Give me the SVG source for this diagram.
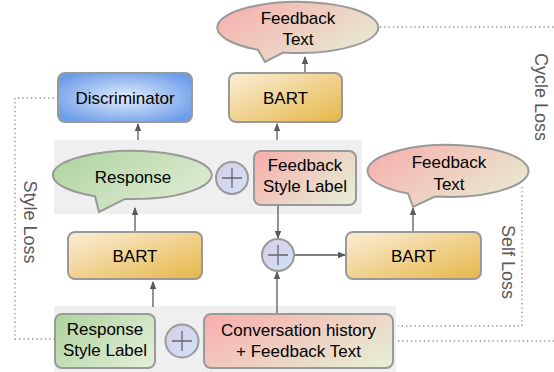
<svg xmlns="http://www.w3.org/2000/svg" width="554" height="372" viewBox="0 0 554 372">
<style>
.node{stroke:#999999;stroke-width:2}
.lbl{font-family:"Liberation Sans",Arial,sans-serif;font-size:17px;fill:#000;text-anchor:middle}
.loss{font-family:"Liberation Sans",Arial,sans-serif;font-size:18px;fill:#595959;text-anchor:middle}
.arr{stroke:#595959;stroke-width:1.3;fill:none;marker-end:url(#ah)}
.dot{stroke:#8a8a8a;stroke-width:1.3;fill:none;stroke-dasharray:1.3 3}
.plus{stroke:#666;stroke-width:1.3}
.panel{fill:#efefef}
</style>
<defs>
<marker id="ah" markerWidth="8" markerHeight="8" refX="7" refY="4" orient="auto" markerUnits="userSpaceOnUse">
<path d="M0,0.8 L8,4 L0,7.2 Z" fill="#595959"/>
</marker>
<linearGradient id="gOr" x1="0" y1="0" x2="1" y2="1"><stop offset="0" stop-color="#fbeed8"/><stop offset="1" stop-color="#e6b748"/></linearGradient>
<linearGradient id="gRG" x1="0" y1="0.2" x2="1" y2="0.8"><stop offset="0" stop-color="#f6b1ae"/><stop offset="1" stop-color="#e6edd3"/></linearGradient>
<linearGradient id="gGr" x1="0" y1="0.2" x2="1" y2="0.8"><stop offset="0" stop-color="#b1d5a2"/><stop offset="1" stop-color="#e1edd6"/></linearGradient>
<radialGradient id="gBl" cx="0.5" cy="0.5" r="0.6"><stop offset="0" stop-color="#e3ecfb"/><stop offset="1" stop-color="#6c9de9"/></radialGradient>
<linearGradient id="gPl" x1="0" y1="0" x2="1" y2="1"><stop offset="0" stop-color="#d8cce9"/><stop offset="1" stop-color="#cfe3f5"/></linearGradient>
</defs>

<g id="panels">
<rect class="panel" x="54" y="140" width="308" height="74"/>
<rect class="panel" x="54" y="306" width="342" height="66"/>
</g>

<g id="connectors">
<path class="arr" d="M138,140 V124"/>
<path class="arr" d="M277,140 V124"/>
<path class="arr" d="M305,73 V57"/>
<path class="arr" d="M135,232 V208"/>
<path class="arr" d="M153,307 V282"/>
<path class="arr" d="M278,205 V238"/>
<path class="arr" d="M277,314 V272"/>
<path class="arr" d="M294,255 H345"/>
<path class="arr" d="M413,232 V208"/>
<path class="dot" d="M380,27 H554"/>
<path class="dot" d="M398,341 H554"/>
<path class="dot" d="M522,187 V326 H398"/>
<path class="dot" d="M58,98 H15 V339 H55"/>
</g>

<g id="feedback-text-top">
<path class="node" fill="url(#gRG)" d="M258,49.7 L265,62 L283,52.6 A80.5,25.5 0 1,0 258,49.7 Z" transform="translate(0,0)"/>
<text class="lbl" x="298" y="24">Feedback</text>
<text class="lbl" x="298" y="45">Text</text>
</g>

<g id="discriminator">
<rect class="node" x="58" y="73" width="134" height="49" rx="7" fill="url(#gBl)"/>
<text class="lbl" x="125" y="104">Discriminator</text>
</g>

<g id="bart-top">
<rect class="node" x="229" y="73" width="113" height="49" rx="7" fill="url(#gOr)"/>
<text class="lbl" x="285.5" y="104">BART</text>
</g>

<g id="response">
<path class="node" fill="url(#gGr)" d="M95,196.2 L99,212 L125,198.9 A79.5,24 0 1,0 95,196.2 Z"/>
<text class="lbl" x="133" y="183">Response</text>
</g>

<g id="plus1">
<circle class="node" cx="232" cy="178" r="16" fill="url(#gPl)" stroke-width="1.5" stroke="#888"/>
<path class="plus" d="M222,178 H242 M232,168 V188"/>
</g>

<g id="feedback-style-label">
<rect class="node" x="254" y="151" width="102" height="54" rx="7" fill="url(#gRG)"/>
<text class="lbl" x="305" y="171">Feedback</text>
<text class="lbl" x="305" y="192">Style Label</text>
</g>

<g id="feedback-text-right">
<path class="node" fill="url(#gRG)" d="M408,193.5 L413,207 L435,196.6 A80.5,26 0 1,0 408,193.5 Z"/>
<text class="lbl" x="449" y="168">Feedback</text>
<text class="lbl" x="449" y="190">Text</text>
</g>

<g id="bart-left">
<rect class="node" x="68" y="232" width="134" height="47" rx="7" fill="url(#gOr)"/>
<text class="lbl" x="135" y="262">BART</text>
</g>

<g id="plus2">
<circle class="node" cx="278" cy="255" r="16" fill="url(#gPl)" stroke-width="1.5" stroke="#888"/>
<path class="plus" d="M268,255 H288 M278,245 V265"/>
</g>

<g id="bart-right">
<rect class="node" x="346" y="232" width="135" height="47" rx="7" fill="url(#gOr)"/>
<text class="lbl" x="413.5" y="262">BART</text>
</g>

<g id="response-style-label">
<rect class="node" x="55" y="314" width="100" height="54" rx="7" fill="url(#gGr)"/>
<text class="lbl" x="105" y="335">Response</text>
<text class="lbl" x="105" y="356">Style Label</text>
</g>

<g id="plus3">
<circle class="node" cx="182" cy="341" r="16.5" fill="url(#gPl)" stroke-width="1.5" stroke="#888"/>
<path class="plus" d="M172,341 H192 M182,331 V351"/>
</g>

<g id="conversation">
<rect class="node" x="204" y="314" width="189" height="54" rx="7" fill="url(#gRG)"/>
<text class="lbl" x="298.5" y="336">Conversation history</text>
<text class="lbl" x="298.5" y="357">+ Feedback Text</text>
</g>

<g id="loss-labels">
<text class="loss" transform="translate(535,97) rotate(90)">Cycle Loss</text>
<text class="loss" transform="translate(502,262) rotate(90)">Self Loss</text>
<text class="loss" transform="translate(24,222) rotate(90)">Style Loss</text>
</g>
</svg>
